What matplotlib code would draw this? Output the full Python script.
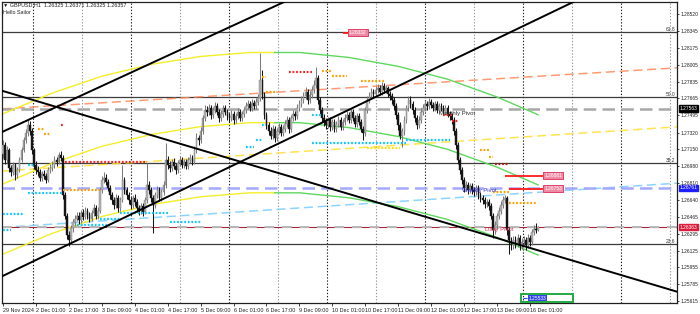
import numpy as np
import matplotlib
matplotlib.use("Agg")
import matplotlib.pyplot as plt
from matplotlib.transforms import blended_transform_factory
from matplotlib.patches import Rectangle

plt.rcParams["font.family"] = ["Liberation Sans", "DejaVu Sans"]

# ── Data (prices x 1e4, H1 bars from 29 Nov 09:00) ───────────────────────────
FIRST_OPEN = 12710
CLOSE = [
    12719, 12704, 12714, 12696, 12692, 12699, 12689, 12694, 12704, 12714,
    12724, 12732, 12740, 12734, 12714, 12699, 12694, 12692, 12686, 12690,
    12688, 12684, 12694, 12696, 12699, 12704, 12702, 12709, 12706, 12669,
    12648, 12628, 12623, 12635, 12641, 12645, 12648, 12643, 12651, 12647,
    12653, 12649, 12645, 12651, 12656, 12648, 12653, 12674, 12684, 12686,
    12682, 12676, 12669, 12664, 12659, 12666, 12656, 12664, 12684, 12674,
    12669, 12664, 12659, 12666, 12662, 12656, 12653, 12658, 12652, 12664,
    12679, 12674, 12666, 12659, 12669, 12674, 12666, 12672, 12679, 12704,
    12699, 12696, 12702, 12698, 12694, 12701, 12704, 12699, 12702, 12698,
    12704, 12706, 12702, 12714, 12726, 12724, 12734, 12747, 12755, 12753,
    12757, 12750, 12755, 12759, 12753, 12747, 12751, 12757, 12753, 12749,
    12747, 12751, 12745, 12749, 12753, 12747, 12751, 12755, 12759, 12761,
    12757, 12762, 12759, 12763, 12767, 12785, 12770, 12750, 12740, 12734,
    12729, 12736, 12726, 12734, 12738, 12732, 12736, 12741, 12745, 12736,
    12747, 12751, 12749, 12757, 12761, 12765, 12769, 12773, 12765, 12770,
    12775, 12780, 12787, 12765, 12755, 12747, 12743, 12740, 12745, 12738,
    12743, 12736, 12741, 12745, 12738, 12743, 12747, 12750, 12745, 12753,
    12747, 12741, 12749, 12743, 12736, 12732, 12755, 12765, 12769, 12773,
    12771, 12775, 12777, 12773, 12779, 12775, 12777, 12771, 12769, 12765,
    12759, 12750, 12740, 12729, 12734, 12745, 12757, 12765, 12761, 12755,
    12747, 12740, 12745, 12753, 12757, 12761, 12759, 12763, 12760, 12757,
    12761, 12755, 12759, 12757, 12753, 12757, 12751, 12749, 12745, 12734,
    12719, 12704, 12694, 12684, 12676, 12679, 12674, 12678, 12674, 12672,
    12676, 12669, 12666, 12664, 12660, 12662, 12658, 12648, 12633, 12638,
    12648, 12653, 12659, 12664, 12666, 12633, 12623, 12618, 12623, 12619,
    12625, 12617, 12621, 12623, 12618, 12625, 12621, 12631, 12634, 12633,
    12636,
]
HIGH = [
    12724, 12722, 12718, 12716, 12699, 12702, 12701, 12697, 12707, 12717,
    12727, 12736, 12746, 12744, 12737, 12716, 12703, 12698, 12695, 12693,
    12694, 12691, 12697, 12700, 12703, 12708, 12707, 12712, 12713, 12709,
    12672, 12651, 12632, 12638, 12645, 12649, 12652, 12652, 12654, 12655,
    12657, 12656, 12652, 12654, 12660, 12659, 12657, 12677, 12688, 12692,
    12690, 12685, 12679, 12672, 12667, 12670, 12669, 12667, 12699, 12687,
    12677, 12672, 12667, 12669, 12670, 12665, 12659, 12661, 12661, 12667,
    12701, 12683, 12677, 12669, 12672, 12678, 12677, 12675, 12683, 12721,
    12708, 12703, 12705, 12706, 12701, 12704, 12708, 12707, 12705, 12705,
    12707, 12710, 12709, 12718, 12732, 12730, 12738, 12750, 12760, 12759,
    12761, 12760, 12758, 12763, 12762, 12756, 12755, 12760, 12760, 12756,
    12752, 12755, 12754, 12752, 12757, 12756, 12754, 12758, 12763, 12765,
    12764, 12766, 12765, 12767, 12771, 12812, 12795, 12773, 12753, 12743,
    12738, 12740, 12739, 12737, 12742, 12741, 12740, 12745, 12749, 12748,
    12750, 12755, 12754, 12761, 12765, 12769, 12773, 12778, 12776, 12774,
    12779, 12785, 12798, 12790, 12768, 12758, 12751, 12747, 12748, 12748,
    12746, 12746, 12744, 12749, 12748, 12746, 12751, 12754, 12753, 12757,
    12756, 12750, 12752, 12752, 12746, 12739, 12758, 12769, 12773, 12777,
    12776, 12779, 12781, 12780, 12783, 12782, 12780, 12779, 12774, 12772,
    12768, 12762, 12753, 12743, 12737, 12749, 12760, 12769, 12769, 12764,
    12758, 12750, 12749, 12757, 12761, 12765, 12764, 12767, 12766, 12763,
    12764, 12764, 12762, 12762, 12760, 12760, 12760, 12754, 12752, 12748,
    12737, 12722, 12707, 12697, 12687, 12683, 12682, 12681, 12681, 12677,
    12679, 12679, 12672, 12669, 12667, 12665, 12665, 12661, 12651, 12642,
    12651, 12657, 12663, 12668, 12669, 12668, 12636, 12626, 12627, 12627,
    12629, 12628, 12625, 12627, 12626, 12629, 12628, 12634, 12638, 12640,
    12637,
]
LOW = [
    12706, 12700, 12701, 12692, 12688, 12689, 12684, 12686, 12692, 12702,
    12712, 12721, 12729, 12730, 12710, 12695, 12690, 12688, 12683, 12683,
    12685, 12681, 12682, 12691, 12693, 12696, 12698, 12700, 12703, 12665,
    12644, 12624, 12617, 12619, 12631, 12637, 12642, 12639, 12640, 12643,
    12644, 12645, 12641, 12642, 12648, 12645, 12645, 12651, 12671, 12681,
    12679, 12673, 12665, 12660, 12655, 12656, 12652, 12653, 12662, 12670,
    12665, 12660, 12655, 12656, 12658, 12652, 12649, 12650, 12648, 12650,
    12661, 12670, 12662, 12630, 12656, 12666, 12663, 12663, 12669, 12676,
    12695, 12692, 12693, 12695, 12690, 12691, 12698, 12696, 12696, 12695,
    12695, 12701, 12699, 12700, 12711, 12719, 12721, 12731, 12744, 12749,
    12750, 12746, 12747, 12752, 12750, 12743, 12744, 12748, 12750, 12745,
    12743, 12744, 12741, 12742, 12746, 12744, 12744, 12748, 12752, 12756,
    12754, 12754, 12756, 12756, 12760, 12764, 12766, 12746, 12736, 12730,
    12725, 12725, 12722, 12723, 12731, 12728, 12729, 12733, 12738, 12732,
    12733, 12744, 12745, 12746, 12754, 12758, 12762, 12766, 12761, 12762,
    12767, 12772, 12777, 12761, 12751, 12743, 12739, 12736, 12737, 12734,
    12735, 12733, 12733, 12738, 12735, 12735, 12740, 12744, 12742, 12742,
    12744, 12738, 12738, 12740, 12733, 12724, 12729, 12752, 12762, 12766,
    12768, 12768, 12772, 12770, 12770, 12772, 12772, 12768, 12765, 12761,
    12755, 12746, 12735, 12725, 12717, 12730, 12742, 12754, 12757, 12751,
    12743, 12736, 12737, 12742, 12750, 12754, 12755, 12756, 12757, 12754,
    12754, 12752, 12752, 12754, 12750, 12750, 12748, 12745, 12741, 12730,
    12715, 12700, 12690, 12680, 12672, 12673, 12670, 12671, 12670, 12668,
    12669, 12665, 12662, 12660, 12656, 12657, 12654, 12644, 12625, 12629,
    12634, 12645, 12650, 12656, 12661, 12628, 12609, 12613, 12614, 12615,
    12616, 12613, 12614, 12618, 12613, 12615, 12617, 12618, 12628, 12630,
    12632,
]

# price scale
PRICE_TICKS = [1.28520, 1.28345, 1.28175, 1.28005, 1.27835, 1.27665, 1.27495,
               1.27320, 1.27150, 1.26980, 1.26810, 1.26640, 1.26465, 1.26295,
               1.26125, 1.25955, 1.25785, 1.25615]
TIME_TICK_BARS = [0, 16, 32, 48, 64, 80, 96, 112, 128, 144, 160, 176, 192,
                  208, 224, 240, 256]
TIME_TICK_LABELS = ["29 Nov 2024", "2 Dec 01:00", "2 Dec 17:00", "3 Dec 09:00",
                    "4 Dec 01:00", "4 Dec 17:00", "5 Dec 09:00", "6 Dec 01:00",
                    "6 Dec 17:00", "9 Dec 09:00", "10 Dec 01:00", "10 Dec 17:00",
                    "11 Dec 09:00", "12 Dec 01:00", "12 Dec 17:00",
                    "13 Dec 09:00", "16 Dec 01:00"]

# fibonacci levels
FIB_PRICES = [1.28338, 1.27680, 1.27012, 1.26192]
FIB_LABELS = ["61.8", "50.0", "38.2", "23.6"]

# pivots
MONTHLY_PIVOT = 1.27563
WEEKLY_PIVOT = 1.26761
DAILY_PIVOT = 1.26363

# trend lines: two anchor points (bar, price)
CHANNEL_UP_TOP = [(0, 1.2733), (100, 1.2829)]
CHANNEL_UP_BOT = [(0, 1.2587), (100, 1.2687)]
CHANNEL_DOWN = [(0, 1.2774), (100, 1.2712)]
LINREG_UPPER = [(0, 1.2756), (300, 1.2794)]
LINREG_MID = [(0, 1.2693), (300, 1.2734)]
LINREG_LOWER = [(0, 1.2636), (300, 1.2677)]

# polynomial regression channel (centre line), half width
CURVE_BARS = [0, 24, 48, 72, 96, 120, 132, 144, 168, 192, 216, 240, 260]
CURVE_MID = [1.2680, 1.2701, 1.2718, 1.2730, 1.2738, 1.2742, 1.2742, 1.2742,
             1.2737, 1.2728, 1.2715, 1.2697, 1.2679]
CURVE_HALF = 0.0071
CURVE_TURN = 132

# dotted support / resistance segments: (start bar, end bar, price)
ORANGE_SEGS = [(17, 20, 1.2736), (20, 23, 1.2731), (29, 47, 1.2674),
               (126, 128, 1.2788), (128, 133, 1.2773), (155, 160, 1.2794),
               (160, 167, 1.2789), (174, 185, 1.2784), (232, 236, 1.2714),
               (236, 238, 1.2707), (238, 246, 1.2672), (246, 259, 1.2661)]
RED_SEGS = [(28, 29, 1.2740), (30, 70, 1.2702), (139, 150, 1.2793),
            (214, 218, 1.2750), (218, 221, 1.2744)]
DARKRED_SEGS = [(239, 246, 1.2700)]
CYAN_SEGS = [(12, 29, 1.2671), (0, 10, 1.2650), (12, 15, 1.2699),
             (47, 57, 1.2645), (57, 80, 1.2651), (81, 96, 1.2641),
             (36, 52, 1.2638), (0, 4, 1.2633), (118, 122, 1.2717),
             (123, 126, 1.2724), (126, 128, 1.2740), (150, 155, 1.2750),
             (150, 196, 1.2721), (196, 217, 1.2724)]
YELLOW_SEGS = [(177, 193, 1.2716)]

# red price levels with tags: (start bar, end bar, price)
TAG_LEVELS = [(244, 262.5, 1.26881), (246, 262.5, 1.26753), (165, 167.5, 1.28332)]
BOTTOM_TAG = 1.25533

FS = 3.9   # terminal font
FSA = 3.5  # price-scale font

# ── Figure ────────────────────────────────────────────────────────────────────
fig = plt.figure(figsize=(7.0, 3.14), dpi=100)
ax = fig.add_axes([2 / 700, 11 / 314, 675 / 700, 301 / 314])
ax.set_xlim(-0.5, 327.5)
ax.set_ylim(1.25595, 1.28641)
for s in ax.spines.values():
    s.set_color("#202020")
    s.set_linewidth(0.9)

trans_r = blended_transform_factory(ax.transAxes, ax.transData)

# vertical grid (dotted)
for k in range(14):
    xg = 14.5 + 23.8 * k
    col = "#202020" if k % 2 == 0 else "#9A9A9A"
    ax.axvline(xg, color=col, lw=0.8, ls=(0, (1.2, 1.6)), zorder=1)

# fibonacci levels
for p, lab in zip(FIB_PRICES, FIB_LABELS):
    ax.axhline(p, color="#3C3C3C", lw=0.9, zorder=1.5)
    ax.text(0.997, p + 0.00004, lab, transform=trans_r, ha="right", va="bottom",
            fontsize=FSA, color="#333333")

# linear regression channel (dashed)
ax.axline(*LINREG_UPPER, color="#FF8A5C", lw=1.1, ls=(0, (6, 3)), alpha=0.85, zorder=2)
ax.axline(*LINREG_MID, color="#FFE033", lw=1.1, ls=(0, (6, 3)), alpha=0.85, zorder=2)
ax.axline(*LINREG_LOWER, color="#7FD0FF", lw=1.1, ls=(0, (6, 3)), alpha=0.9, zorder=2)

# pivots
ax.axhline(MONTHLY_PIVOT, color="#A8A8A8", lw=1.8, ls=(0, (5, 2.5)), zorder=2)
ax.axhline(WEEKLY_PIVOT, color="#A4A8FF", lw=1.8, ls=(0, (5, 2.5)), zorder=2)
ax.axhline(DAILY_PIVOT, color="#A02838", lw=0.8, zorder=2)
ax.axhline(DAILY_PIVOT, color="#B8B8B8", lw=1.4, ls=(0, (5, 4)), zorder=2.1)
ax.text(212, MONTHLY_PIVOT - 0.00025, "Monthly Pivot", fontsize=4.3,
        color="#303030", va="top", zorder=6)
ax.text(223, WEEKLY_PIVOT - 0.00005, "Weekly Pivot", fontsize=4.3,
        color="#3030D0", va="top", zorder=6)
ax.text(234, DAILY_PIVOT - 0.00003, "Daily Pivot", fontsize=4.3,
        color="#E04060", va="top", zorder=6)

# polynomial regression curves
cb = np.array(CURVE_BARS)
cm = np.array(CURVE_MID)
rise = cb <= CURVE_TURN
fall = cb >= CURVE_TURN
for off in (CURVE_HALF, 0.0, -CURVE_HALF):
    ax.plot(cb[rise], cm[rise] + off, color="#F4EE2A", lw=1.0, zorder=2.5)
    ax.plot(cb[fall], cm[fall] + off, color="#5ED85E", lw=1.0, zorder=2.5)

# dotted segments
def dotted(segs, color, lw=1.6):
    for x0, x1, p in segs:
        ax.hlines(p, x0, x1, color=color, lw=lw, ls=(0, (0.8, 0.8)), zorder=3.5)

dotted(ORANGE_SEGS, "#FFA000")
dotted(RED_SEGS, "#FF2020")
dotted(DARKRED_SEGS, "#B01818")
dotted(CYAN_SEGS, "#10C8FF")
dotted(YELLOW_SEGS, "#FFE000")

# candles
close = np.array(CLOSE) / 1e4
high = np.array(HIGH) / 1e4
low = np.array(LOW) / 1e4
opn = np.r_[FIRST_OPEN / 1e4, close[:-1]]
high = np.maximum(high, np.maximum(opn, close))
low = np.minimum(low, np.minimum(opn, close))
bars = np.arange(len(close))
bull = close >= opn
ax.vlines(bars[bull], low[bull], high[bull], color="#7C7C7C", lw=0.75, zorder=3)
ax.vlines(bars[~bull], low[~bull], high[~bull], color="#151515", lw=0.75, zorder=3)
body_lo = np.minimum(opn, close)
body_h = np.maximum(np.abs(close - opn), 0.00002)
ax.bar(bars[bull], body_h[bull], bottom=body_lo[bull], width=0.8,
       color="#B4B4B4", edgecolor="#7C7C7C", lw=0.3, zorder=3.2)
ax.bar(bars[~bull], body_h[~bull], bottom=body_lo[~bull], width=0.8,
       color="#151515", edgecolor="#151515", lw=0.3, zorder=3.2)

# black trend channel lines
for pts in (CHANNEL_UP_TOP, CHANNEL_UP_BOT, CHANNEL_DOWN):
    ax.axline(*pts, color="black", lw=1.4, zorder=4)

# red tagged levels
for x0, x1, p in TAG_LEVELS:
    ax.hlines(p, x0, x1, color="#FF1A1A", lw=1.3, zorder=4.5)
    ax.text(x1 + 0.6, p, f"{p:.5f}", fontsize=FSA, color="white", va="center",
            ha="left", zorder=6,
            bbox=dict(boxstyle="square,pad=0.2", fc="#EE8AA4", ec="#E0406A", lw=0.7))

# bottom tag
ax.add_patch(Rectangle((251.5, 1.25605), 25.5, 0.00080, fill=False,
                       ec="#22AA44", lw=1.4, zorder=6, clip_on=False))
ax.text(255.5, 1.25645, f"{BOTTOM_TAG:.5f}", fontsize=FSA, color="white",
        va="center", ha="left", zorder=7,
        bbox=dict(boxstyle="square,pad=0.1", fc="#3344EE", ec="none"))
ax.hlines(1.25645, 252.8, 254.6, color="#3344EE", lw=0.8, zorder=7)

# price axis
ax.yaxis.tick_right()
ax.set_yticks(PRICE_TICKS)
ax.set_yticklabels([f"{p:.5f}" for p in PRICE_TICKS])
ax.tick_params(axis="y", labelsize=FSA, length=1.5, pad=1.2, width=0.6,
               colors="#202020")
for p, fc in ((MONTHLY_PIVOT, "black"), (WEEKLY_PIVOT, "#1E1EFF"),
              (DAILY_PIVOT, "#DC1E3C")):
    ax.text(1.0045, p, f"{p:.5f}", transform=trans_r, fontsize=FSA,
            color="white", va="center", ha="left", zorder=8, clip_on=False,
            bbox=dict(boxstyle="square,pad=0.12", fc=fc, ec=fc))

# time axis
ax.set_xticks(TIME_TICK_BARS)
ax.set_xticklabels(TIME_TICK_LABELS, ha="left")
ax.tick_params(axis="x", labelsize=FS, length=2, pad=1.5, width=0.6,
               colors="#202020")

# header
fig.text(3 / 700, 1 - 5 / 314, "\u25BC GBPUSD,H1  1.26325 1.26371 1.26325 1.26357",
         fontsize=FS, color="#202020", va="center", ha="left")
fig.text(3 / 700, 1 - 13 / 314, "Hello Sailor", fontsize=FS,
         color="#202020", va="center", ha="left")

fig.savefig("out.png", dpi=100, facecolor="white")
plt.close(fig)
